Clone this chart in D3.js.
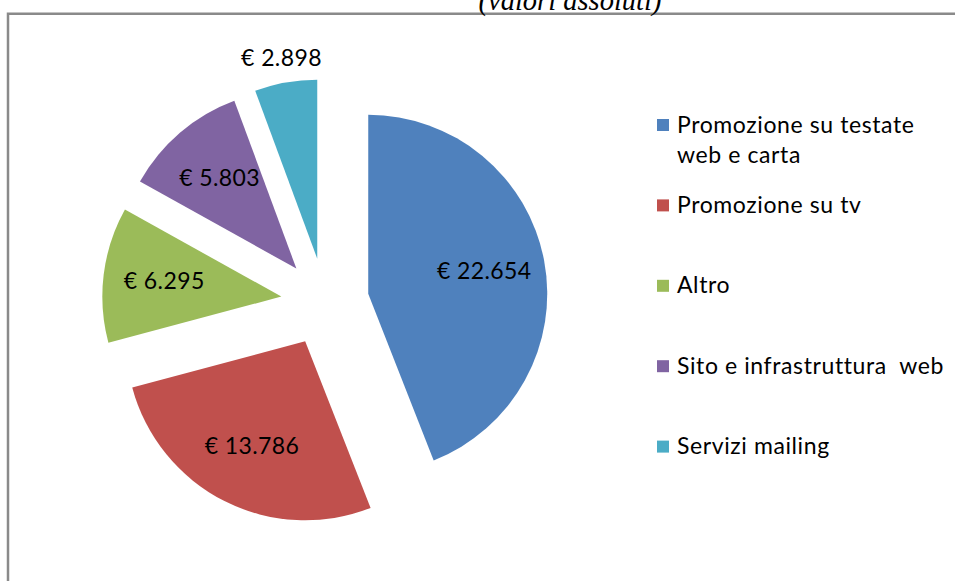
<!DOCTYPE html>
<html>
<head>
<meta charset="utf-8">
<script src="https://cdn.jsdelivr.net/npm/d3@7"></script>
<style>
  body { margin: 0; background: #fff; }
</style>
</head>
<body>
<script>
// categories and values
const categories = ["Promozione su testate web e carta", "Promozione su tv", "Altro", "Sito e infrastruttura web", "Servizi mailing"];
const legendLines = [["Promozione su testate", "web e carta"], ["Promozione su tv"], ["Altro"], ["Sito e infrastruttura  web"], ["Servizi mailing"]];
const values = [22654, 13786, 6295, 5803, 2898];
const colors = ["#4F81BD", "#C0504D", "#9BBB59", "#8064A2", "#4BACC6"];
const title = "(valori assoluti)";

const width = 955, height = 581;
const cx = 325, cy = 302, radius = 179, explode = 44;

const it = d3.formatLocale({decimal: ",", thousands: ".", grouping: [3], currency: ["€ ", ""]});
const fmt = it.format("$,");

const svg = d3.select("body").append("svg")
	.attr("width", width)
	.attr("height", height);

// chart frame
svg.append("path")
	.attr("d", `M8,${height} L8,13.7 L${width},13.7`)
	.attr("fill", "none")
	.attr("stroke", "#8a8a8a")
	.attr("stroke-width", 2.5);

// title, mostly cut off at the top
svg.append("text")
	.attr("x", 570)
	.attr("y", 9.5)
	.attr("text-anchor", "middle")
	.style("font-family", "'Liberation Serif', serif")
	.style("font-style", "italic")
	.style("font-size", "28.5px")
	.text(title);

const total = d3.sum(values);
const pie = d3.pie().sort(null).value(d => d);
const arc = d3.arc().innerRadius(0).outerRadius(radius);
const arcs = pie(values);

const slices = svg.append("g")
	.attr("transform", `translate(${cx},${cy})`);

const slice = slices.selectAll("g.slice")
	.data(arcs)
	.enter().append("g")
	.attr("class", "slice")
	.attr("transform", d => {
		const mid = (d.startAngle + d.endAngle) / 2;
		return `translate(${explode * Math.sin(mid)},${-explode * Math.cos(mid)})`;
	});

slice.append("path")
	.attr("d", arc)
	.attr("fill", (d, i) => colors[i]);

// value labels: inside the slice, small ones outside
slice.append("text")
	.attr("transform", d => {
		const mid = (d.startAngle + d.endAngle) / 2;
		const r = d.value / total < 0.08 ? radius + 24 : 118;
		return `translate(${r * Math.sin(mid)},${-r * Math.cos(mid)})`;
	})
	.attr("text-anchor", "middle")
	.attr("dy", "0.3em")
	.style("font-family", "Lato, sans-serif")
	.style("font-size", "23px")
	.style("letter-spacing", "0.4px")
	.style("fill", "#000")
	.text(d => fmt(d.value));

// legend
const legend = svg.append("g");
const item = legend.selectAll("g.item")
	.data(categories)
	.enter().append("g")
	.attr("class", "item")
	.attr("transform", (d, i) => `translate(657,${125 + i * 80.4})`);

item.append("rect")
	.attr("x", 0)
	.attr("y", -6)
	.attr("width", 12)
	.attr("height", 12)
	.attr("fill", (d, i) => colors[i]);

item.append("text")
	.attr("x", 20)
	.attr("y", 7.5)
	.style("font-family", "Lato, sans-serif")
	.style("font-size", "23px")
	.style("letter-spacing", "0.6px")
	.style("fill", "#000")
	.style("white-space", "pre")
	.selectAll("tspan")
	.data((d, i) => legendLines[i])
	.enter().append("tspan")
	.attr("x", 20)
	.attr("dy", (d, j) => j === 0 ? 0 : 30)
	.text(d => d);
</script>
</body>
</html>
